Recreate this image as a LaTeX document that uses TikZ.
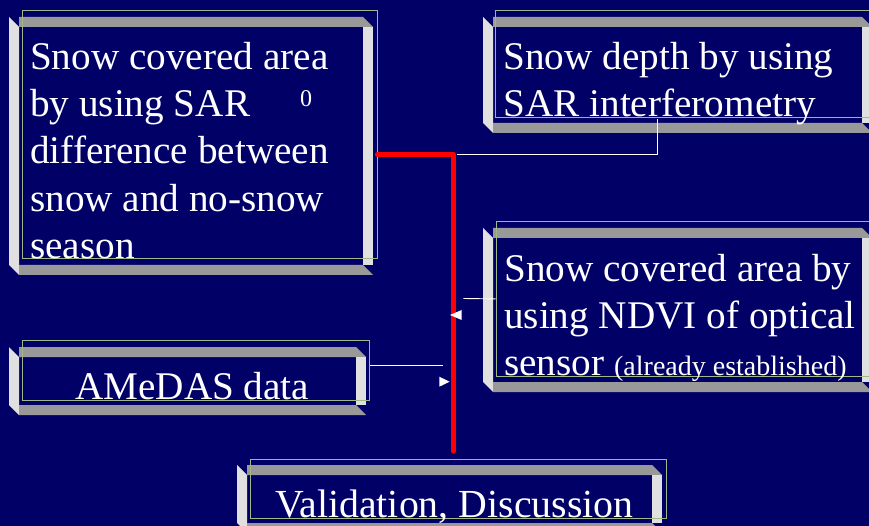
\documentclass[tikz,border=0pt]{standalone}
\usepackage{fontspec}
\setmainfont{Liberation Serif}
\definecolor{bgnavy}{RGB}{0,0,102}
\definecolor{facelight}{RGB}{224,224,224}
\definecolor{facegray}{RGB}{153,153,153}
\definecolor{tbgreen}{RGB}{160,184,136}
% x0, y0 (outer top-left), x2 (inner right), y2 (inner bottom)
\newcommand\bevelbox[4]{%
  \fill[facelight] (#1,#2) -- (#1+10,#2+10) -- (#1+10,#4+10) -- (#1,#4) -- cycle;
  \fill[facegray] (#1+10,#2) -- (#3,#2) -- (#3+10,#2+10) -- (#1+10,#2+10) -- cycle;
  \fill[facelight] (#3,#2+10) -- (#3+10,#2+10) -- (#3+10,#4) -- (#3,#4) -- cycle;
  \fill[facegray] (#1+10,#4) -- (#3,#4) -- (#3+10,#4+10) -- (#1+10,#4+10) -- cycle;
}
\begin{document}
\begin{tikzpicture}[x=1bp,y=-1bp,
  tbox/.style={draw=tbgreen,line width=0.8bp,anchor=north west,inner sep=0pt},
  txt/.style={text=white,inner sep=0pt,anchor=base west,font=\fontsize{39.2bp}{47bp}\selectfont},
  bigtxt/.style={text=white,inner sep=0pt,anchor=base west,font=\fontsize{39.8bp}{47bp}\selectfont},
  smalltxt/.style={text=white,inner sep=0pt,anchor=base west,font=\fontsize{24bp}{26bp}\selectfont},
  wline/.style={draw=white,line width=0.9bp},
  redline/.style={draw=red,line width=5bp,line cap=round,line join=round},
  wtip/.style={fill=white}]
\fill[bgnavy] (0,0) rectangle (869,526);
\useasboundingbox (0,0) rectangle (869,526);
\clip (0,0) rectangle (869,526);

% bevelled boxes
\bevelbox{9}{17}{363}{265}
\bevelbox{483}{17}{862}{123}
\bevelbox{483}{228}{862}{382}
\bevelbox{9}{347}{356}{405}
\bevelbox{237}{465}{652}{523}

% thin text-box frames
\node[tbox,minimum width=355.5bp,minimum height=248bp] (tb1) at (21.5,10) {};
\node[tbox,minimum width=400bp,minimum height=107bp] (tb2) at (495,10) {};
\node[tbox,minimum width=400bp,minimum height=154bp] (tb3) at (495.5,221.5) {};
\node[tbox,minimum width=347.5bp,minimum height=59.5bp] (tb4) at (21.5,340) {};
\node[tbox,minimum width=415.5bp,minimum height=59bp] (tb5) at (250,458.5) {};

% texts
\node[txt] (t1a) at (30,69.3) {Snow covered area};
\node[txt] (t1b) at (30,116.6) {by using SAR};
\node[smalltxt] (t1s) at (300,107) {0};
\node[txt] (t1c) at (30,163.9) {difference between};
\node[txt] (t1d) at (30,211.2) {snow and no-snow};
\node[txt] (t1e) at (30,258.5) {season};

\node[txt] (t2a) at (503.3,70) {Snow depth by using};
\node[txt] (t2b) at (503.3,117) {SAR interferometry};

\node[txt] (t3a) at (504,281.7) {Snow covered area by};
\node[txt] (t3b) at (504,328.3) {using NDVI of optical};
\node[txt] (t3c) at (504,375) {sensor {\fontsize{28bp}{30bp}\selectfont (already established)}};

\node[txt] (t4) at (75,399.3) {AMeDAS data};
\node[bigtxt] (t5) at (275,517.3) {Validation, Discussion};

% connector coordinates
\coordinate (rstart) at (377.5,154.2);
\coordinate (rcorner) at (453.3,154.2);
\coordinate (rend) at (453.3,451);
\coordinate (d2top) at (657,119);
\coordinate (d2bend) at (657,154);
\coordinate (ndviend) at (463.3,298.5);
\coordinate (amedend) at (443.3,365.5);

% white connectors
\draw[wline] (d2top) -- (d2bend) -- (456.7,154);
\draw[wline] (tb3.west) -- (ndviend);
\draw[wline] (tb4.east |- amedend) -- (amedend);

% red trunk
\draw[redline] (rstart) -- (rcorner) -- (rend);

% arrow tips
\fill[wtip] (450,315) -- (461.7,310) -- (461.7,320) -- cycle;
\fill[wtip] (449.6,381.7) -- (439.3,376.7) -- (439.3,386.7) -- cycle;
\end{tikzpicture}
\end{document}
